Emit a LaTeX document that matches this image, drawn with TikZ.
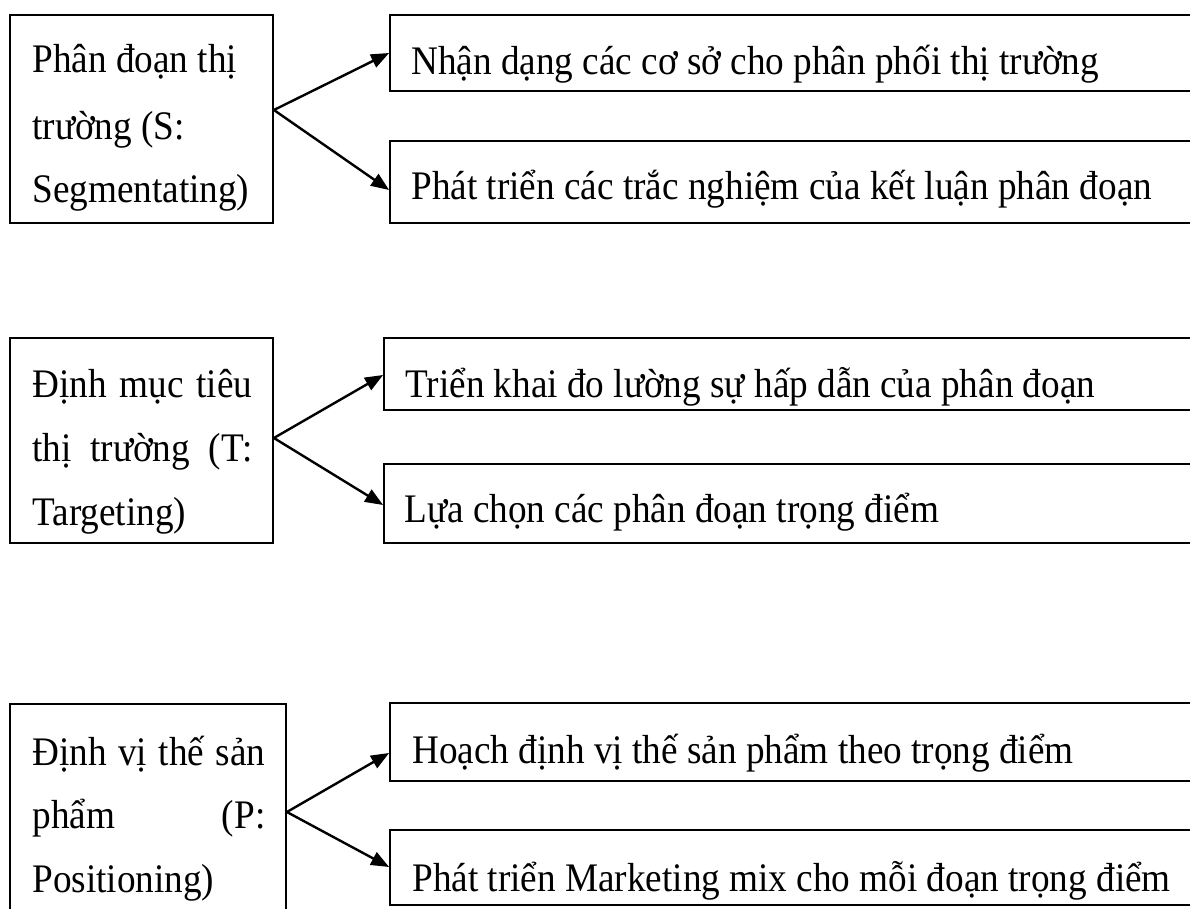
\documentclass[tikz,border=0pt]{standalone}
\usepackage{graphicx}
\usepackage{fontspec}
\setmainfont{Liberation Serif}
\usetikzlibrary{arrows.meta,fit}
\newcommand\vtx[1]{\scalebox{1}[1.09]{#1}}
\begin{document}
\begin{tikzpicture}[x=0.5pt,y=-0.5pt,
  box/.style={draw, line width=0.9pt, inner sep=0pt},
  lbl/.style={anchor=base west, inner sep=0pt, font=\fontsize{18.6}{20}\selectfont},
  arr/.style={line width=1.2pt, -{Triangle[length=9pt,width=7pt]}}]
\useasboundingbox (0,0) rectangle (1190,909);
\clip (0,0) rectangle (1190,909);
% ---------- group 1 ----------
\node[box, fit={(9.6,15) (273,223)}] (L1) {};
\node[box, fit={(390,15) (1210,91)}] (R11) {};
\node[box, fit={(390,141) (1210,223)}] (R12) {};
\node[lbl] (t1a) at (32,73) {\vtx{Phân đoạn thị}};
\node[lbl] (t1b) at (32,140) {\vtx{trường (S:}};
\node[lbl] (t1c) at (32,203) {\vtx{Segmentating)}};
\node[lbl] (r11t) at (411,75) {\vtx{Nhận dạng các cơ sở cho phân phối thị trường}};
\node[lbl] (r12t) at (411,200) {\vtx{Phát triển các trắc nghiệm của kết luận phân đoạn}};
\coordinate (s1) at (L1.east |- 0,110);
\draw[arr] (s1) -- (R11.west |- 0,53);
\draw[arr] (s1) -- (R12.west |- 0,190);
% ---------- group 2 ----------
\node[box, fit={(9.6,338) (273,543)}] (L2) {};
\node[box, fit={(384,338) (1210,410)}] (R21) {};
\node[box, fit={(384,464) (1210,543)}] (R22) {};
\node[lbl] (t2a) at (32,398) {\vtx{\makebox[110pt][s]{Định mục tiêu}}};
\node[lbl] (t2b) at (32,462) {\vtx{\makebox[110pt][s]{thị trường (T:}}};
\node[lbl] (t2c) at (32,525) {\vtx{Targeting)}};
\node[lbl] (r21t) at (405,398) {\vtx{Triển khai đo lường sự hấp dẫn của phân đoạn}};
\node[lbl] (r22t) at (404,523) {\vtx{Lựa chọn các phân đoạn trọng điểm}};
\coordinate (s2) at (L2.east |- 0,438);
\draw[arr] (s2) -- (R21.west |- 0,375);
\draw[arr] (s2) -- (R22.west |- 0,505);
% ---------- group 3 ----------
\node[box, fit={(9.6,704) (286,930)}] (L3) {};
\node[box, fit={(390,703) (1210,781)}] (R31) {};
\node[box, fit={(390,830) (1210,905)}] (R32) {};
\node[lbl] (t3a) at (32,765) {\vtx{\makebox[116.5pt][s]{Định vị thế sản}}};
\node[lbl] (t3b) at (32,828) {\vtx{\makebox[116.5pt][s]{phẩm (P:}}};
\node[lbl] (t3c) at (32,892) {\vtx{Positioning)}};
\node[lbl] (r31t) at (412,763) {\vtx{Hoạch định vị thế sản phẩm theo trọng điểm}};
\node[lbl] (r32t) at (412,891) {\vtx{Phát triển Marketing mix cho mỗi đoạn trọng điểm}};
\coordinate (s3) at (L3.east |- 0,812);
\draw[arr] (s3) -- (R31.west |- 0,753);
\draw[arr] (s3) -- (R32.west |- 0,867);
\end{tikzpicture}
\end{document}
